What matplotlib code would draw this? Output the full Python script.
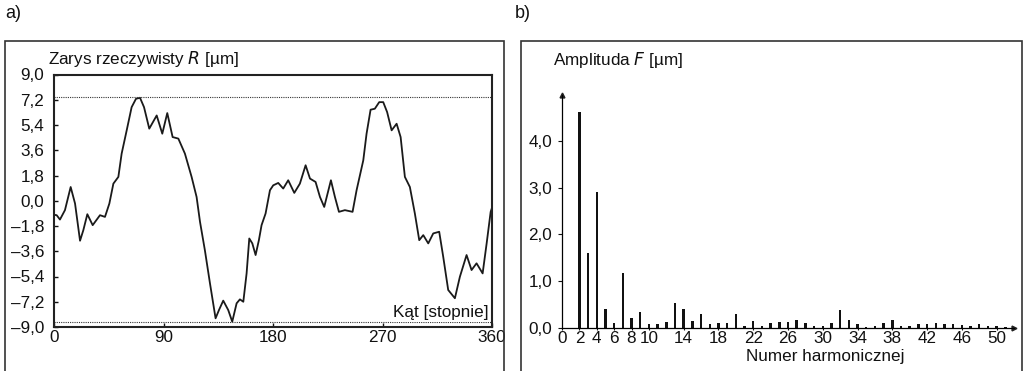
import numpy as np
import matplotlib
matplotlib.use('Agg')
import matplotlib.pyplot as plt
from matplotlib.patches import Rectangle

plt.rcParams['font.family'] = ['Liberation Sans', 'DejaVu Sans']
plt.rcParams['font.size'] = 12
plt.rcParams['text.color'] = '#111111'
plt.rcParams['xtick.color'] = '#111111'
plt.rcParams['ytick.color'] = '#111111'

# Panel a) - real profile R [um] against angle [deg]
angle = [0, 2.2, 4.9, 9, 13.7, 17.3, 21.4, 24.1, 27.4, 31.8, 37.8, 41.9, 45.5, 48.8,
         52.9, 55.6, 59.7, 63.8, 67.4, 70.7, 74, 78.3, 84.4, 89, 93.1, 97.5, 102.2,
         107.6, 113.1, 117.2, 120, 124, 128.2, 132.8, 135.6, 139.1, 143.2, 146.5,
         150.1, 152.8, 155.6, 158.3, 160.5, 163, 165.7, 168.4, 170.6, 173.9, 177.5,
         180.2, 184.3, 188.4, 192.5, 197.5, 202.1, 206.8, 210.4, 215, 218.6, 222.1,
         227.6, 230.9, 234.2, 239.1, 245.4, 248.7, 254.2, 256.9, 260.2, 263.7, 267.3,
         270.6, 273.8, 277.5, 281.6, 284.9, 288.4, 292.5, 296.6, 300.2, 303.5, 307.6,
         311.7, 316.6, 319.9, 324, 329.5, 333.6, 339.1, 343.2, 347.3, 352.3, 355.6,
         358.9, 360]
profile = [-1.0, -1.03, -1.34, -0.67, 0.98, -0.2, -2.85, -2.1, -0.96, -1.74, -1.03,
           -1.15, -0.2, 1.22, 1.7, 3.36, 5.0, 6.67, 7.27, 7.34, 6.67, 5.14, 6.08, 4.78,
           6.25, 4.54, 4.43, 3.36, 1.7, 0.27, -1.5, -3.52, -5.89, -8.38, -7.79, -7.12,
           -7.79, -8.62, -7.31, -7.03, -7.2, -5.18, -2.69, -3.04, -3.87, -2.81, -1.74,
           -0.91, 0.75, 1.1, 1.27, 0.87, 1.46, 0.56, 1.22, 2.53, 1.58, 1.34, 0.27, -0.44,
           1.46, 0.27, -0.79, -0.67, -0.79, 0.75, 2.88, 4.78, 6.49, 6.56, 7.03, 7.03,
           6.32, 5.02, 5.49, 4.54, 1.7, 0.98, -0.91, -2.81, -2.45, -3.04, -2.33, -2.21,
           -3.99, -6.36, -6.95, -5.42, -3.87, -4.94, -4.46, -5.18, -3.04, -0.79, -0.5]
profile_max = 7.4
profile_min = -8.65
angle_ticks = [0, 90, 180, 270, 360]
r_ticks = [9.0, 7.2, 5.4, 3.6, 1.8, 0.0, -1.8, -3.6, -5.4, -7.2, -9.0]

# Panel b) - amplitude F [um] of harmonics
harmonic = list(range(2, 52))
amplitude = [4.62, 1.61, 2.91, 0.41, 0.1, 1.18, 0.21, 0.33, 0.07, 0.09, 0.12, 0.53,
             0.41, 0.14, 0.3, 0.09, 0.11, 0.11, 0.3, 0.04, 0.14, 0.03, 0.1, 0.12, 0.12,
             0.17, 0.1, 0.04, 0.03, 0.11, 0.39, 0.16, 0.07, 0.01, 0.04, 0.11, 0.16, 0.03,
             0.04, 0.07, 0.09, 0.1, 0.09, 0.07, 0.06, 0.03, 0.08, 0.03, 0.04, 0.02]
harm_ticks = [0, 2, 4, 6, 8, 10, 14, 18, 22, 26, 30, 34, 38, 42, 46, 50]
f_ticks = [0.0, 1.0, 2.0, 3.0, 4.0]

W, H = 1025, 371
fig = plt.figure(figsize=(W / 100, H / 100), dpi=100)

def box(x0, y0, x1, y1):
    # rectangle in pixel coords (y from top)
    return [x0 / W, 1 - y1 / H, (x1 - x0) / W, (y1 - y0) / H]

def comma(v):
    return f'{v:.1f}'.replace('.', ',').replace('-', '\u2013')

# outer frames
for x0, x1 in [(5, 504), (521, 1022)]:
    fig.patches.append(Rectangle((x0 / W, -0.05), (x1 - x0) / W, 1.05 - 40.5 / H,
                                 transform=fig.transFigure, fill=False,
                                 edgecolor='#333333', linewidth=1.2))
fig.text(5 / W, 1 - 13 / H, 'a)', fontsize=13, va='center', ha='left')
fig.text(515 / W, 1 - 13 / H, 'b)', fontsize=13, va='center', ha='left')

# ---- a)
ax1 = fig.add_axes(box(54, 74.5, 492, 327))
ax1.plot(angle, profile, color='#1a1a1a', linewidth=1.3, solid_joinstyle='round')
ax1.axhline(profile_max, color='#333333', linewidth=0.8, linestyle=(0, (1, 1)))
ax1.axhline(profile_min, color='#333333', linewidth=0.8, linestyle=(0, (1, 1)))
ax1.set_xlim(0, 360)
ax1.set_ylim(-9, 9)
ax1.set_xticks(angle_ticks)
ax1.set_yticks(r_ticks)
ax1.set_yticklabels([comma(v) for v in r_ticks])
ax1.tick_params(direction='in', length=3, width=1, pad=2, labelsize=12.3)
ax1.tick_params(axis='y', pad=7)
for s in ax1.spines.values():
    s.set_linewidth(1.5)
    s.set_color('#222222')
fig.text(48 / W, 1 - 59 / H, 'Zarys rzeczywisty $\\it{R}$ [\u00b5m]', fontsize=12.3,
         va='center', ha='left')
ax1.text(357.5, -8.0, 'K\u0105t [stopnie]', fontsize=12.3, ha='right', va='center',
         bbox=dict(facecolor='white', edgecolor='none', pad=1))

# ---- b)
ax2 = fig.add_axes(box(562, 94.5, 1014, 327.7))
ax2.bar(harmonic, amplitude, width=0.28, color='#111111')
ax2.set_xlim(0, 52)
ax2.set_ylim(0, 5)
ax2.set_xticks(harm_ticks)
ax2.set_yticks(f_ticks)
ax2.set_yticklabels([comma(v) for v in f_ticks])
ax2.spines['top'].set_visible(False)
ax2.spines['right'].set_visible(False)
ax2.spines['left'].set_linewidth(0.9)
ax2.spines['bottom'].set_linewidth(0.9)
ax2.tick_params(axis='x', direction='out', length=1.5, width=0.8, pad=1, labelsize=12.3)
ax2.tick_params(axis='y', direction='out', length=3, width=0.8, pad=4, labelsize=12.3)
ax2.plot(0, 5, marker='^', color='#222222', markersize=3.5, clip_on=False)
ax2.plot(52, 0, marker='>', color='#222222', markersize=3.5, clip_on=False)
fig.text(553 / W, 1 - 60 / H, 'Amplituda $\\it{F}$ [\u00b5m]', fontsize=12.3,
         va='center', ha='left')
fig.text(825 / W, 1 - 357 / H, 'Numer harmonicznej', fontsize=12.3,
         va='center', ha='center')

fig.savefig('out.png', dpi=100)
